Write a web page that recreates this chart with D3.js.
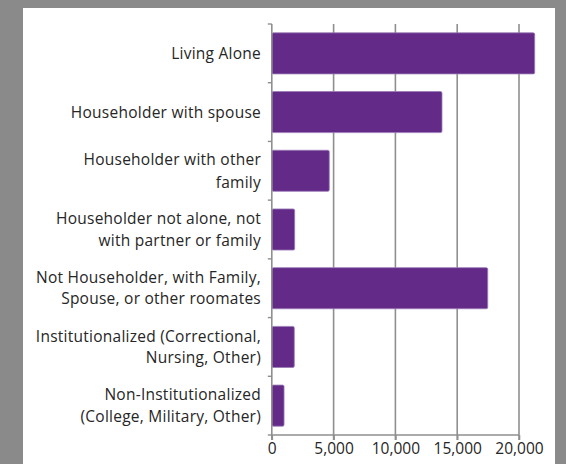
<!DOCTYPE html>
<html>
<head>
<meta charset="utf-8">
<script src="https://cdn.jsdelivr.net/npm/d3@7"></script>
<style>
  html, body { margin: 0; padding: 0; background: #8a8a8a; }
  svg { display: block; }
  text { font-family: "Open Sans", Lato, sans-serif; fill: #262626; }
</style>
</head>
<body>
<svg id="chart" width="566" height="464"></svg>
<script>
// ---- data ----
const categories = [
  "Living Alone",
  "Householder with spouse",
  "Householder with other family",
  "Householder not alone, not with partner or family",
  "Not Householder, with Family, Spouse, or other roomates",
  "Institutionalized (Correctional, Nursing, Other)",
  "Non-Institutionalized (College, Military, Other)"
];
const labelLines = [
  ["Living Alone"],
  ["Householder with spouse"],
  ["Householder with other", "family"],
  ["Householder not alone, not", "with partner or family"],
  ["Not Householder, with Family,", "Spouse, or other roomates"],
  ["Institutionalized (Correctional,", "Nursing, Other)"],
  ["Non-Institutionalized", "(College, Military, Other)"]
];
const values = [21270, 13770, 4650, 1850, 17470, 1820, 990];
const xTicks = [0, 5000, 10000, 15000, 20000];

// ---- layout ----
const svg = d3.select("#chart");
svg.append("rect").attr("x", 23).attr("y", 8).attr("width", 532).attr("height", 456).attr("fill", "#ffffff");

const x = d3.scaleLinear().domain([0, 20000]).range([271.8, 519]);
const y = d3.scaleBand().domain(categories).range([24, 435]).paddingInner(0.3).paddingOuter(0.15);

// gridlines
svg.append("g").selectAll("line").data(xTicks.slice(1)).join("line")
  .attr("x1", d => x(d)).attr("x2", d => x(d))
  .attr("y1", 24).attr("y2", 440)
  .attr("stroke", "#8f8f8f").attr("stroke-width", 1.6);

// bars
svg.append("g").selectAll("rect").data(categories).join("rect")
  .attr("x", x(0))
  .attr("y", d => y(d))
  .attr("width", (d, i) => x(values[i]) - x(0))
  .attr("height", y.bandwidth())
  .attr("rx", 1.5)
  .attr("fill", "#632b87")
  .attr("stroke", "#9a7bb8")
  .attr("stroke-width", 0.8);

// y axis line + category ticks
svg.append("line").attr("x1", x(0)).attr("x2", x(0)).attr("y1", 24).attr("y2", 440)
  .attr("stroke", "#8f8f8f").attr("stroke-width", 1.6);
const step = y.step();
const bounds = d3.range(categories.length + 1).map(i => 24 + i * step);
svg.append("g").selectAll("line").data(bounds).join("line")
  .attr("x1", x(0) - 4).attr("x2", x(0))
  .attr("y1", d => d).attr("y2", d => d)
  .attr("stroke", "#8f8f8f").attr("stroke-width", 1.4);

// x axis
const xAxis = d3.axisBottom(x).tickValues(xTicks).tickFormat(d3.format(",")).tickSize(5).tickPadding(3);
const gx = svg.append("g").attr("transform", "translate(0,435)").call(xAxis);
gx.select(".domain").attr("stroke", "#8f8f8f").attr("stroke-width", 1.6).attr("d", `M${x(0)},0H${x(20000)}`);
gx.selectAll(".tick line").attr("stroke", "#8f8f8f").attr("stroke-width", 1.6);
gx.selectAll(".tick text").attr("font-size", 15.5).attr("font-family", "'Open Sans', sans-serif").attr("fill", "#262626");

// category labels
const lab = svg.append("g").selectAll("text").data(categories).join("text")
  .attr("text-anchor", "end")
  .attr("font-size", 15.5)
  .attr("letter-spacing", 0.25)
  .attr("x", 261)
  .attr("y", d => y(d) + y.bandwidth() / 2);
lab.each(function(d, i) {
  const lines = labelLines[i];
  const lh = i === 2 ? 23.5 : 21.4;
  const t = d3.select(this);
  lines.forEach((ln, j) => {
    t.append("tspan").attr("x", 261)
      .attr("dy", j === 0 ? (-(lines.length - 1) * lh / 2) + 5.5 : lh)
      .text(ln);
  });
});
</script>
</body>
</html>
